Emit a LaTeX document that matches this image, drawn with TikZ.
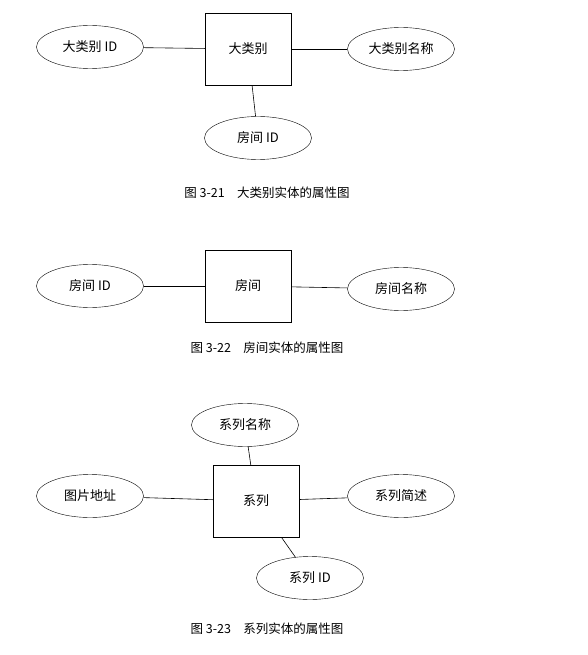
\documentclass[tikz,border=0pt]{standalone}
\usepackage{fontspec}
\setmainfont{Noto Sans CJK SC}
\usetikzlibrary{shapes.geometric}

\begin{document}
\begin{tikzpicture}[x=1pt,y=-1pt,
	entity/.style={draw,rectangle,minimum width=86pt,minimum height=72pt,inner sep=0pt,font=\fontsize{13}{15}\selectfont},
	attr/.style={draw,ellipse,minimum width=107pt,minimum height=43pt,inner sep=0pt,font=\fontsize{13}{15}\selectfont},
	caption/.style={font=\fontsize{12.5}{15}\selectfont},
	link/.style={draw,line width=0.6pt}]
	\useasboundingbox (0,0) rectangle (587,655);
	%first diagram
	\node[entity] (dalei) at (248,49) {大类别};
	\node[attr] (daleiid) at (90,47) {大类别 ID};
	\node[attr] (daleiname) at (401,49) {大类别名称};
	\node[attr] (daleiroom) at (258,138) {房间 ID};
	\draw[link] (daleiid) -- (dalei);
	\draw[link] (dalei) -- (daleiname);
	\draw[link] (dalei) -- (daleiroom);
	\node[caption] (cap1) at (267,193) {图 3-21\quad 大类别实体的属性图};
	%second diagram
	\node[entity] (room) at (248,286) {房间};
	\node[attr] (roomid) at (90,286) {房间 ID};
	\node[attr] (roomname) at (401,289) {房间名称};
	\draw[link] (roomid) -- (room);
	\draw[link] (room) -- (roomname);
	\node[caption] (cap2) at (267,348) {图 3-22\quad 房间实体的属性图};
	%third diagram
	\node[entity] (series) at (256,501) {系列};
	\node[attr] (seriesname) at (245,425) {系列名称};
	\node[attr] (seriespic) at (90,496) {图片地址};
	\node[attr] (seriesdesc) at (401,496) {系列简述};
	\node[attr] (seriesid) at (310,578) {系列 ID};
	\draw[link] (seriesname) -- (series);
	\draw[link] (seriespic) -- (series);
	\draw[link] (series) -- (seriesdesc);
	\draw[link] (series) -- (seriesid);
	\node[caption] (cap3) at (267,629) {图 3-23\quad 系列实体的属性图};
\end{tikzpicture}
\end{document}
